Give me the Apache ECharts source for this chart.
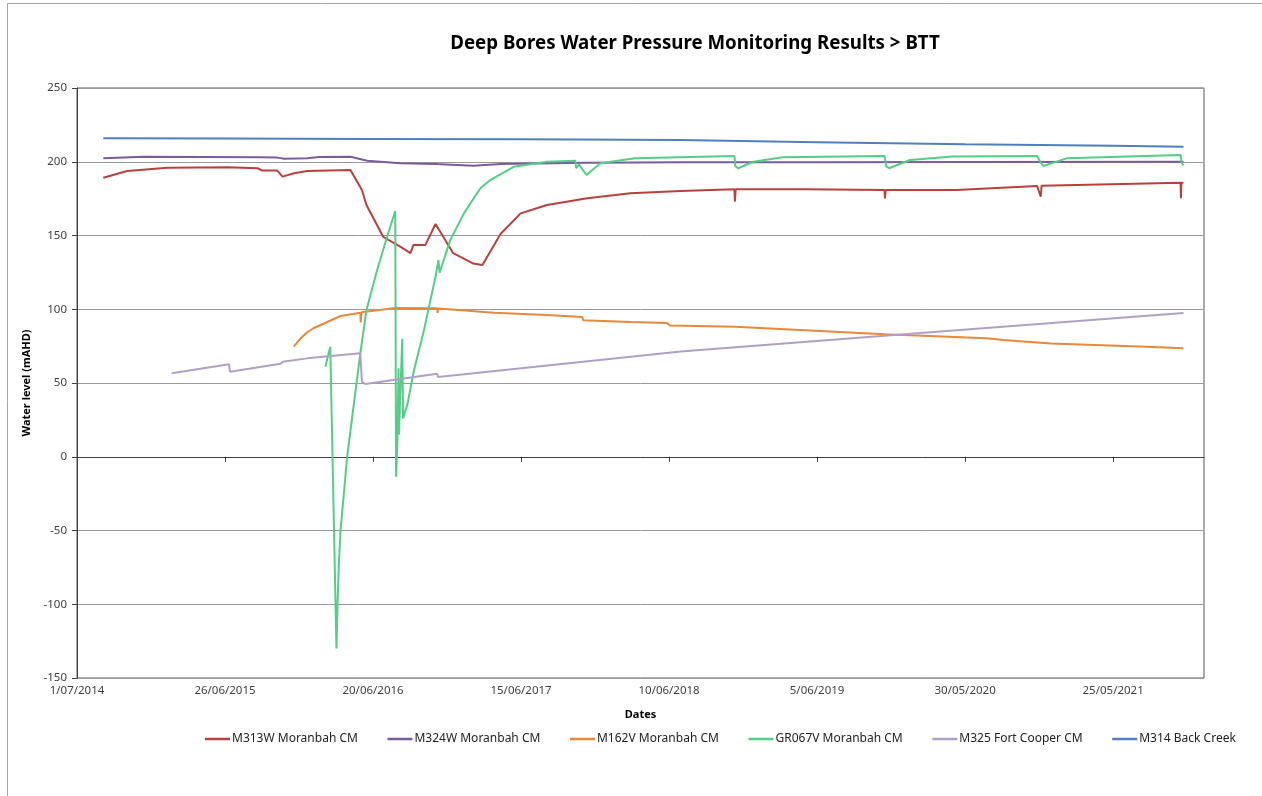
<!DOCTYPE html>
<html>
<head>
<meta charset="utf-8">
<script src="https://cdn.jsdelivr.net/npm/echarts@6/dist/echarts.min.js"></script>
<style>
  html, body { margin: 0; padding: 0; background: #fff; }
  #chart { width: 1262px; height: 796px; }
</style>
</head>
<body>
<div id="chart"></div>
<script>
// axis start (Excel date axis min) and tick step in days
const axisStart = '2014-07-01';
const axisEnd = '2022-01-01';
const tickDays = 360;
const yTicks = [-150, -100, -50, 0, 50, 100, 150, 200, 250];

const seriesNames = ['M313W Moranbah CM', 'M324W Moranbah CM', 'M162V Moranbah CM',
  'GR067V Moranbah CM', 'M325 Fort Cooper CM', 'M314 Back Creek'];

const m313wDates = ['2014-09-03', '2014-10-31', '2015-02-06', '2015-07-02', '2015-09-13', '2015-09-25',
  '2015-10-31', '2015-11-13', '2015-12-11', '2016-01-12', '2016-04-26', '2016-05-24', '2016-06-04',
  '2016-07-15', '2016-08-25', '2016-09-19', '2016-09-26', '2016-10-25', '2016-11-19', '2017-01-01',
  '2017-02-19', '2017-03-13', '2017-04-26', '2017-06-14', '2017-08-17', '2017-11-23', '2018-03-08',
  '2018-07-08', '2018-11-16', '2018-11-17', '2018-11-19', '2019-05-05', '2019-11-16', '2019-11-17',
  '2019-11-19', '2020-05-09', '2020-11-21', '2020-11-30', '2020-12-02', '2021-11-05', '2021-11-06',
  '2021-11-07', '2021-11-12'];
const m313wValues = [189.2, 193.7, 196.0, 196.2, 195.6, 194.0,
  194.0, 189.9, 192.2, 193.7, 194.4, 180.8, 170.7,
  149.0, 142.4, 138.0, 143.5, 143.5, 157.8, 138.0,
  131.0, 130.0, 151.0, 165.0, 170.7, 175.2, 178.6,
  180.2, 181.3, 173.0, 181.3, 181.3, 180.8, 175.2,
  180.8, 180.8, 183.6, 176.3, 183.7, 185.8, 175.2,
  185.8, 185.8];

const m324wDates = ['2014-09-03', '2014-12-11', '2015-09-20', '2015-10-31', '2015-11-17', '2016-01-12',
  '2016-02-10', '2016-04-26', '2016-06-06', '2016-08-25', '2016-11-19', '2017-02-19', '2017-04-26',
  '2017-11-23', '2018-07-08', '2019-06-05', '2020-05-30', '2021-11-12'];
const m324wValues = [202.3, 203.4, 203.0, 202.8, 202.1, 202.3,
  203.2, 203.4, 200.7, 199.0, 198.4, 197.3, 198.5,
  199.4, 199.6, 199.7, 199.8, 200.0];

const m162vDates = ['2015-12-10', '2015-12-27', '2016-01-12', '2016-01-27', '2016-04-02', '2016-05-20',
  '2016-05-21', '2016-05-23', '2016-08-13', '2016-11-23', '2016-11-24', '2016-11-26', '2017-04-10',
  '2017-08-17', '2017-11-11', '2017-11-13', '2018-03-08', '2018-06-05', '2018-06-12', '2018-06-14',
  '2018-11-18', '2018-11-20', '2019-11-16', '2020-07-21', '2020-08-31', '2020-12-25', '2021-08-14',
  '2021-11-12'];
const m162vValues = [74.6, 80.3, 84.4, 87.1, 95.4, 97.7,
  91.0, 98.0, 100.8, 100.7, 97.5, 100.5, 97.7,
  96.1, 94.7, 92.5, 91.3, 90.6, 89.0, 89.3,
  88.2, 87.1, 83.1, 80.3, 79.2, 76.7, 74.6,
  73.6];

const gr067vDates = ['2016-02-25', '2016-03-08', '2016-03-23', '2016-03-26', '2016-03-29', '2016-04-02',
  '2016-04-18', '2016-05-20', '2016-06-04', '2016-06-30', '2016-07-24', '2016-08-13', '2016-08-15',
  '2016-08-18', '2016-08-21', '2016-08-22', '2016-08-30', '2016-09-01', '2016-09-12', '2016-09-27',
  '2016-10-22', '2016-11-19', '2016-11-26', '2016-11-29', '2016-12-25', '2017-01-27', '2017-03-08',
  '2017-04-01', '2017-05-28', '2017-08-17', '2017-10-25', '2017-10-27', '2017-11-03', '2017-11-21',
  '2017-12-25', '2018-03-19', '2018-11-16', '2018-11-18', '2018-11-25', '2019-01-01', '2019-03-14',
  '2019-11-16', '2019-11-20', '2019-11-27', '2020-01-17', '2020-04-29', '2020-11-21', '2020-12-01',
  '2020-12-06', '2021-02-01', '2021-11-05', '2021-11-08', '2021-11-12'];
const gr067vValues = [61, 74.6, -130, -97, -72.2, -49.7,
  0, 70, 99.5, 126.6, 149, 166.6, -13.5,
  9, 60, 15, 80, 26, 36, 58,
  86, 122, 133.4, 124.8, 147, 165, 182,
  187.6, 196.6, 200, 200.7, 195.6, 198, 191,
  199, 202.3, 203.9, 197, 195.6, 200, 203,
  203.9, 197, 195.6, 201.2, 203.5, 203.9, 199,
  197.1, 202.3, 204.6, 199, 197.5];

const m325Dates = ['2015-02-16', '2015-07-06', '2015-07-08', '2015-11-08', '2015-11-13', '2016-01-12',
  '2016-05-20', '2016-05-24', '2016-06-01', '2016-11-23', '2016-11-25', '2018-07-08', '2019-11-16',
  '2021-11-12'];
const m325Values = [56.6, 62.7, 57.7, 63.1, 64.4, 66.7,
  70.1, 50.9, 49.3, 56.2, 54.1, 71.3, 82.1,
  97.4];

const m314Dates = ['2014-09-03', '2015-07-01', '2016-06-01', '2017-06-14', '2018-07-08', '2019-06-05',
  '2020-05-30', '2021-05-25', '2021-11-12'];
const m314Values = [215.9, 215.7, 215.5, 215.2, 214.7, 213.3, 211.8, 210.8, 210.2];

const seriesColors = ['#b9403d', '#7a5b9b', '#e8883a', '#53cf85', '#b0a0c8', '#4f7fbf'];

const DAY = 86400000;
function toMs(s) {
  const p = s.split('-').map(Number);
  return Date.UTC(p[0], p[1] - 1, p[2]);
}
const startMs = toMs(axisStart);
function toDays(s) {
  return Math.round((toMs(s) - startMs) / DAY);
}
function pairUp(dates, values) {
  return dates.map((d, i) => [toDays(d), values[i]]);
}
function fmtDate(days) {
  const d = new Date(startMs + days * DAY);
  const m = d.getUTCMonth() + 1;
  return d.getUTCDate() + '/' + (m < 10 ? '0' + m : m) + '/' + d.getUTCFullYear();
}

const allData = [
  pairUp(m313wDates, m313wValues),
  pairUp(m324wDates, m324wValues),
  pairUp(m162vDates, m162vValues),
  pairUp(gr067vDates, gr067vValues),
  pairUp(m325Dates, m325Values),
  pairUp(m314Dates, m314Values)
];

const chart = echarts.init(document.getElementById('chart'));
const font = 'Noto Sans';

chart.setOption({
  animation: false,
  backgroundColor: '#fff',
  textStyle: { fontFamily: font },
  title: {
    text: 'Deep Bores Water Pressure Monitoring Results > BTT',
    left: 690,
    top: 29,
    textAlign: 'center',
    textStyle: { fontFamily: font, fontSize: 18.7, fontWeight: 'bold', color: '#000' }
  },
  graphic: [{
    type: 'rect',
    shape: { x: 7.5, y: 3.5, width: 1400, height: 1000 },
    style: { fill: 'none', stroke: '#a6a6a6', lineWidth: 1 },
    silent: true,
    z: -1
  }],
  grid: {
    left: 77,
    right: 58,
    top: 88,
    bottom: 118,
    show: true,
    borderColor: '#595959',
    borderWidth: 1
  },
  legend: {
    left: 200,
    top: 728,
    icon: 'rect',
    itemWidth: 25,
    itemHeight: 2.5,
    itemGap: 29.6,
    data: seriesNames,
    textStyle: { fontFamily: font, fontSize: 12, color: '#222', padding: [0, 0, 0, -3] }
  },
  xAxis: {
    type: 'value',
    min: 0,
    max: toDays(axisEnd),
    interval: tickDays,
    name: 'Dates',
    nameLocation: 'middle',
    nameGap: 31,
    nameTextStyle: { fontFamily: font, fontSize: 11, fontWeight: 'bold', color: '#000' },
    axisLine: { show: true, lineStyle: { color: '#404040', width: 1 } },
    axisTick: { show: true, inside: false, length: 5, lineStyle: { color: '#404040' } },
    axisLabel: {
      margin: 7,
      fontSize: 11.5,
      color: '#404040',
      showMaxLabel: false,
      formatter: v => (v % tickDays === 0 ? fmtDate(v) : '')
    },
    splitLine: { show: false }
  },
  yAxis: {
    type: 'value',
    min: yTicks[0],
    max: yTicks[yTicks.length - 1],
    interval: 50,
    name: 'Water level (mAHD)',
    nameLocation: 'middle',
    nameGap: 41,
    nameTextStyle: { fontFamily: font, fontSize: 11, fontWeight: 'bold', color: '#000' },
    axisLine: { show: true, lineStyle: { color: '#404040', width: 1 } },
    axisTick: { show: true, inside: false, length: 5, lineStyle: { color: '#404040' } },
    axisLabel: { margin: 10, fontSize: 11.5, color: '#404040' },
    splitLine: { show: true, lineStyle: { color: '#9a9a9a', width: 1 } }
  },
  series: seriesNames.map((name, i) => ({
    name: name,
    type: 'line',
    data: allData[i],
    symbol: 'none',
    showSymbol: false,
    lineStyle: { color: seriesColors[i], width: 2 },
    itemStyle: { color: seriesColors[i] },
    z: 2 + i
  }))
});
</script>
</body>
</html>
